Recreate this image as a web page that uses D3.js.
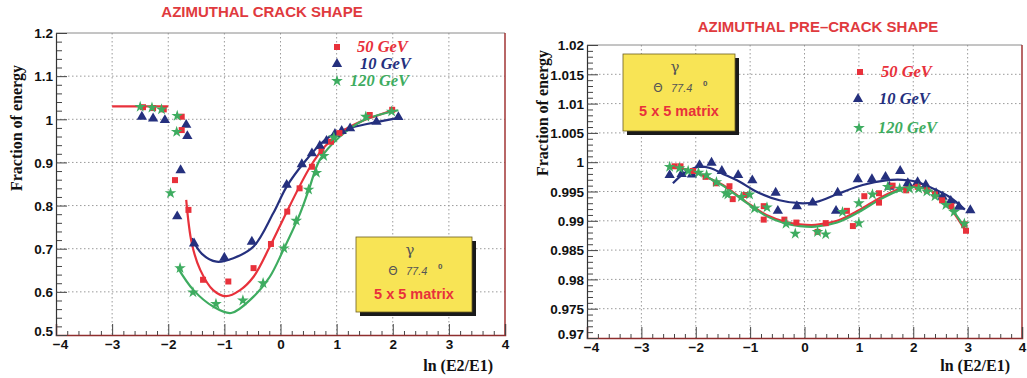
<!DOCTYPE html>
<html><head><meta charset="utf-8">
<script src="https://cdn.jsdelivr.net/npm/d3@7/dist/d3.min.js"></script>
<style>body{margin:0;background:#fff}svg{display:block}</style></head>
<body><svg id="c" width="1027" height="378"></svg>
<script>
// ---------------- DATA ----------------
const xTicks = [-4,-3,-2,-1,0,1,2,3,4];
const crackYTicks = [0.5,0.6,0.7,0.8,0.9,1.0,1.1,1.2];
const crackYLabels = ["0.5","0.6","0.7","0.8","0.9","1","1.1","1.2"];
const preYTicks = [0.97,0.975,0.98,0.985,0.99,0.995,1.0,1.005,1.01,1.015,1.02];
const preYLabels = ["0.97","0.975","0.98","0.985","0.99","0.995","1","1.005","1.01","1.015","1.02"];
const seriesNames = ["50 GeV","10 GeV","120 GeV"];
const titles = ["AZIMUTHAL CRACK SHAPE","AZIMUTHAL PRE\u2013CRACK SHAPE"];

// Crack shape: points
const crack50X = [-2.45,-2.27,-2.08,-1.76,-1.76,-1.88,-1.64,-1.38,-0.93,-0.48,-0.17,0.12,0.34,0.56,0.73,0.90,1.05,1.59,1.99];
const crack50Y = [1.028,1.026,1.023,1.006,0.975,0.859,0.790,0.628,0.624,0.655,0.711,0.786,0.840,0.890,0.925,0.948,0.968,1.010,1.022];
const crack10X = [-2.47,-2.27,-2.06,-1.68,-1.66,-1.78,-1.84,-1.54,-1.00,-0.51,0.11,0.38,0.56,0.70,0.82,0.97,1.09,1.24,1.71,2.10];
const crack10Y = [1.006,1.002,0.998,0.987,0.961,0.882,0.775,0.712,0.679,0.716,0.848,0.896,0.921,0.938,0.950,0.966,0.973,0.979,0.994,1.005];
const crack120X = [-2.50,-2.29,-2.12,-1.84,-1.85,-1.96,-1.79,-1.56,-1.15,-0.67,-0.31,0.06,0.28,0.50,0.64,0.77,0.95,1.52,1.98];
const crack120Y = [1.029,1.027,1.023,1.008,0.971,0.829,0.655,0.599,0.572,0.580,0.620,0.701,0.765,0.837,0.876,0.915,0.958,1.006,1.018];
// Crack shape: fitted curves
const crackFit50FlatX = [-3.0,-2.5,-2.0];
const crackFit50FlatY = [1.030,1.030,1.030];
const crackFit50X = [-1.68,-1.58,-1.43,-1.20,-0.97,-0.72,-0.48,-0.19,0.17,0.53,0.79,1.09,1.42,2.01];
const crackFit50Y = [0.813,0.712,0.651,0.604,0.590,0.604,0.635,0.705,0.801,0.890,0.937,0.971,0.994,1.021];
const crackFit10X = [-1.58,-1.40,-1.14,-0.84,-0.48,-0.13,0.11,0.41,0.79,1.12,1.54,2.13];
const crackFit10Y = [0.724,0.688,0.670,0.678,0.705,0.782,0.844,0.898,0.952,0.975,0.989,1.004];
const crackFit120X = [-1.84,-1.55,-1.20,-0.88,-0.48,-0.19,0.05,0.35,0.50,0.70,1.06,1.48,2.10];
const crackFit120Y = [0.658,0.604,0.566,0.551,0.589,0.635,0.697,0.782,0.835,0.906,0.960,0.998,1.021];

// Pre-crack shape: points
const pre50X = [-2.39,-2.28,-2.05,-1.82,-1.63,-1.38,-1.32,-1.09,-0.75,-0.75,-0.37,-0.15,0.24,0.39,0.78,0.89,1.10,1.37,1.37,1.62,1.87,2.08,2.25,2.40,2.53,2.70,2.94,2.97];
const pre50Y = [0.9993,0.9993,0.9985,0.9975,0.9964,0.9959,0.9937,0.9944,0.9925,0.9902,0.9902,0.9897,0.9881,0.9896,0.9917,0.9891,0.9942,0.9947,0.9931,0.9960,0.9952,0.9958,0.9952,0.9945,0.9935,0.9925,0.9894,0.9883];
const pre10X = [-2.48,-2.26,-2.07,-1.93,-1.71,-1.52,-1.22,-0.96,-0.53,-0.49,-0.14,0.15,0.58,0.61,0.98,1.24,1.49,1.56,1.76,1.90,2.08,2.23,2.42,2.54,2.69,2.84,3.05];
const pre10Y = [0.9978,0.9980,0.9979,0.9995,0.9999,0.9985,0.9978,0.9969,0.9948,0.9917,0.9925,0.9931,0.9917,0.9948,0.9971,0.9971,0.9975,0.9958,0.9985,0.9964,0.9966,0.9961,0.9947,0.9941,0.9934,0.9924,0.9918];
const pre120X = [-2.48,-2.30,-2.14,-1.95,-1.80,-1.62,-1.45,-1.41,-1.16,-1.01,-0.92,-0.69,-0.34,-0.17,0.24,0.39,0.70,1.00,1.00,1.25,1.53,1.75,1.93,2.10,2.25,2.40,2.60,2.75,2.94];
const pre120Y = [0.9992,0.9990,0.9985,0.9982,0.9978,0.9966,0.9947,0.9945,0.9941,0.9945,0.9921,0.9923,0.9895,0.9878,0.9881,0.9877,0.9915,0.9930,0.9896,0.9945,0.9958,0.9955,0.9955,0.9955,0.9950,0.9942,0.9927,0.9915,0.9895];
// Pre-crack shape: fitted curves
const preFit10X = [-2.42,-2.20,-1.95,-1.74,-1.50,-1.20,-0.89,-0.46,-0.09,0.21,0.64,1.07,1.50,1.80,2.05,2.29,2.66,2.95];
const preFit10Y = [0.9964,0.9982,0.9992,0.9990,0.9980,0.9967,0.9950,0.9935,0.9930,0.9932,0.9947,0.9961,0.9969,0.9970,0.9967,0.9958,0.9941,0.9919];
const preFit50X = [-2.50,-2.11,-1.74,-1.50,-1.07,-0.70,-0.34,-0.09,0.20,0.60,1.00,1.40,1.80,2.05,2.35,2.65,2.95];
const preFit50Y = [0.9993,0.9986,0.9972,0.9961,0.9932,0.9910,0.9898,0.9894,0.9893,0.9900,0.9918,0.9940,0.9956,0.9959,0.9950,0.9925,0.9884];
const preFit120X = [-2.50,-2.11,-1.74,-1.50,-1.07,-0.70,-0.34,-0.09,0.20,0.60,1.00,1.40,1.80,2.05,2.35,2.65,2.95];
const preFit120Y = [0.9993,0.9986,0.9972,0.9960,0.9931,0.9908,0.9895,0.9891,0.9890,0.9897,0.9915,0.9937,0.9954,0.9958,0.9950,0.9926,0.9888];

// ---------------- STYLE ----------------
const RED = "#e8313b", BLUE = "#25307e", GREEN = "#3eac60";
const colors = [RED, BLUE, GREEN];
const symbols = [d3.symbolSquare, d3.symbolTriangle, d3.symbolStar];
const symSizes = [36, 46, 42];
const zip = (xs, ys) => xs.map((v, i) => [v, ys[i]]);

const svg = d3.select("#c");

function drawPanel(p) {
  const g = svg.append("g");
  const x = d3.scaleLinear().domain([-4, 4]).range([p.left, p.right]);
  const y = d3.scaleLinear().domain(p.yDomain).range([p.bottom, p.top]);

  // grid
  g.selectAll(".gx").data(xTicks.slice(1, -1)).join("line")
    .attr("x1", d => x(d)).attr("x2", d => x(d)).attr("y1", p.top).attr("y2", p.bottom)
    .attr("stroke", "#9a9a9a").attr("stroke-width", 1).attr("stroke-dasharray", "1.5,2.5");
  g.selectAll(".gy").data(p.yTicks.slice(1, -1)).join("line")
    .attr("x1", p.left).attr("x2", p.right).attr("y1", d => y(d)).attr("y2", d => y(d))
    .attr("stroke", "#9a9a9a").attr("stroke-width", 1).attr("stroke-dasharray", "1.5,2.5");

  // frame top/right
  g.append("line").attr("x1", p.left).attr("x2", p.right).attr("y1", p.top).attr("y2", p.top)
    .attr("stroke", "#8a8a8a").attr("stroke-width", 1);
  g.append("line").attr("x1", p.right).attr("x2", p.right).attr("y1", p.top).attr("y2", p.bottom)
    .attr("stroke", "#a03535").attr("stroke-width", 1.5);

  // minor ticks
  const xMinor = d3.range(-4, 4.001, 0.2).filter(v => Math.abs(v - Math.round(v)) > 1e-6);
  const yStep = (p.yTicks[1] - p.yTicks[0]) / 5;
  const yMinor = d3.range(p.yDomain[0], p.yDomain[1] + yStep / 2, yStep)
    .filter((v, i) => i % 5 !== 0);
  const styleAxis = sel => {
    sel.selectAll(".tick line").attr("stroke", "#444");
    sel.selectAll("text").attr("font-family", "'Liberation Sans', Arial, sans-serif")
      .attr("font-weight", "bold").attr("font-size", 13.5).attr("fill", "#111");
  };
  g.append("g").attr("transform", `translate(0,${p.bottom})`)
    .call(d3.axisBottom(x).tickValues(xMinor).tickSize(-4).tickFormat(""))
    .call(s => s.select(".domain").remove()).call(styleAxis);
  g.append("g").attr("transform", `translate(${p.left},0)`)
    .call(d3.axisLeft(y).tickValues(yMinor).tickSize(-6).tickFormat(""))
    .call(s => s.select(".domain").remove()).call(styleAxis);

  // major axes
  const xa = g.append("g").attr("transform", `translate(0,${p.bottom})`)
    .call(d3.axisBottom(x).tickValues(xTicks).tickSize(-11).tickPadding(4).tickFormat(d3.format("d")))
    .call(styleAxis);
  xa.select(".domain").attr("stroke", "#8e2e2e").attr("stroke-width", 1.5);
  xa.selectAll(".tick text").filter((d, i) => i === 0).attr("dx", "0.3em");
  const ya = g.append("g").attr("transform", `translate(${p.left},0)`)
    .call(d3.axisLeft(y).tickValues(p.yTicks).tickSize(-11).tickPadding(3)
      .tickFormat((d, i) => p.yLabels[i]))
    .call(styleAxis);
  ya.select(".domain").attr("stroke", "#333").attr("stroke-width", 1.2);
  ya.selectAll(".tick text").attr("dy", "0.35em");
  ya.selectAll(".tick text").filter((d, i) => i === 0).attr("dy", "0.05em");

  // fits
  const line = d3.line().x(d => x(d[0])).y(d => y(d[1])).curve(d3.curveCatmullRom.alpha(0.5));
  p.fits.forEach(f => {
    g.append("path").attr("d", line(f.pts)).attr("fill", "none")
      .attr("stroke", f.color).attr("stroke-width", 2.2);
  });

  // points
  p.points.forEach(s => {
    g.selectAll(null).data(s.pts).join("path")
      .attr("transform", d => `translate(${x(d[0])},${y(d[1])})`)
      .attr("d", d3.symbol().type(symbols[s.idx]).size(symSizes[s.idx]))
      .attr("fill", colors[s.idx]);
  });

  // title
  g.append("text").attr("x", p.titleX).attr("y", p.titleY).attr("text-anchor", "middle")
    .attr("font-family", "'Liberation Sans', Arial, sans-serif").attr("font-weight", "bold")
    .attr("font-size", 15).attr("fill", "#e03a3e").text(p.title);

  // y label
  g.append("text").attr("transform", `translate(${p.yLabX},${p.yLabY}) rotate(-90)`)
    .attr("text-anchor", "middle")
    .attr("font-family", "'Liberation Serif', 'Times New Roman', serif").attr("font-weight", "bold")
    .attr("font-size", 16).attr("fill", "#111").text("Fraction of energy");
  // x label
  g.append("text").attr("x", p.right - 12).attr("y", 371).attr("text-anchor", "end")
    .attr("font-family", "'Liberation Serif', 'Times New Roman', serif").attr("font-weight", "bold")
    .attr("font-size", 16).attr("fill", "#111").text("ln (E2/E1)");

  // legend
  p.legend.forEach((L, i) => {
    g.append("path").attr("transform", `translate(${L.mx},${L.my})`)
      .attr("d", d3.symbol().type(symbols[i]).size(symSizes[i]))
      .attr("fill", colors[i]);
    g.append("text").attr("x", L.tx).attr("y", L.ty)
      .attr("font-family", "'Liberation Serif', 'Times New Roman', serif")
      .attr("font-weight", "bold").attr("font-style", "italic").attr("font-size", 16.5)
      .attr("fill", colors[i]).text(seriesNames[i]);
  });

  // info box
  const b = p.box;
  g.append("rect").attr("x", b.x + 4).attr("y", b.y + 4).attr("width", b.w).attr("height", b.h).attr("fill", "#1a1a1a");
  g.append("rect").attr("x", b.x).attr("y", b.y).attr("width", b.w).attr("height", b.h)
    .attr("fill", "#f8e455").attr("stroke", "#6b5e20").attr("stroke-width", 0.8);
  const cx = b.x + b.w / 2;
  g.append("text").attr("x", cx - 4).attr("y", b.y + 18).attr("text-anchor", "middle")
    .attr("font-family", "'DejaVu Serif', 'Liberation Serif', serif").attr("font-size", 15)
    .attr("fill", "#555").text("\u03b3");
  g.append("text").attr("x", cx - 21).attr("y", b.y + 38).attr("text-anchor", "middle")
    .attr("font-family", "'DejaVu Sans', sans-serif").attr("font-size", 12).attr("fill", "#555").text("\u0398");
  g.append("text").attr("x", cx - 8).attr("y", b.y + 38)
    .attr("font-family", "'Liberation Sans', Arial, sans-serif").attr("font-style", "italic")
    .attr("font-size", 11).attr("fill", "#555").text("77.4");
  g.append("text").attr("x", cx + 24).attr("y", b.y + 32)
    .attr("font-family", "'Liberation Sans', Arial, sans-serif").attr("font-weight", "bold")
    .attr("font-size", 8).attr("fill", "#555").text("0");
  g.append("text").attr("x", cx).attr("y", b.y + 62).attr("text-anchor", "middle")
    .attr("font-family", "'Liberation Sans', Arial, sans-serif").attr("font-weight", "bold").attr("font-size", 14.5)
    .attr("fill", "#e8313b").text("5 x 5 matrix");
}

drawPanel({
  left: 56, right: 505, top: 33, bottom: 335,
  yDomain: [0.5, 1.2], yTicks: crackYTicks, yLabels: crackYLabels,
  title: titles[0], titleX: 262, titleY: 17,
  yLabX: 22, yLabY: 128,
  fits: [
    {color: RED, pts: zip(crackFit50FlatX, crackFit50FlatY)},
    {color: BLUE, pts: zip(crackFit10X, crackFit10Y)},
    {color: RED, pts: zip(crackFit50X, crackFit50Y)},
    {color: GREEN, pts: zip(crackFit120X, crackFit120Y)}
  ],
  points: [
    {idx: 1, pts: zip(crack10X, crack10Y)},
    {idx: 0, pts: zip(crack50X, crack50Y)},
    {idx: 2, pts: zip(crack120X, crack120Y)}
  ],
  legend: [
    {mx: 337, my: 47, tx: 357, ty: 52},
    {mx: 337, my: 64, tx: 360, ty: 69},
    {mx: 337, my: 81, tx: 350, ty: 86}
  ],
  box: {x: 356, y: 237, w: 116, h: 75}
});

drawPanel({
  left: 587, right: 1022, top: 45, bottom: 338,
  yDomain: [0.97, 1.02], yTicks: preYTicks, yLabels: preYLabels,
  title: titles[1], titleX: 818, titleY: 32,
  yLabX: 548, yLabY: 113,
  fits: [
    {color: BLUE, pts: zip(preFit10X, preFit10Y)},
    {color: RED, pts: zip(preFit50X, preFit50Y)},
    {color: GREEN, pts: zip(preFit120X, preFit120Y)}
  ],
  points: [
    {idx: 1, pts: zip(pre10X, pre10Y)},
    {idx: 0, pts: zip(pre50X, pre50Y)},
    {idx: 2, pts: zip(pre120X, pre120Y)}
  ],
  legend: [
    {mx: 860, my: 72, tx: 881, ty: 77},
    {mx: 858, my: 99, tx: 879, ty: 104},
    {mx: 859, my: 128, tx: 878, ty: 133}
  ],
  box: {x: 623, y: 54, w: 112, h: 77}
});
</script></body></html>
